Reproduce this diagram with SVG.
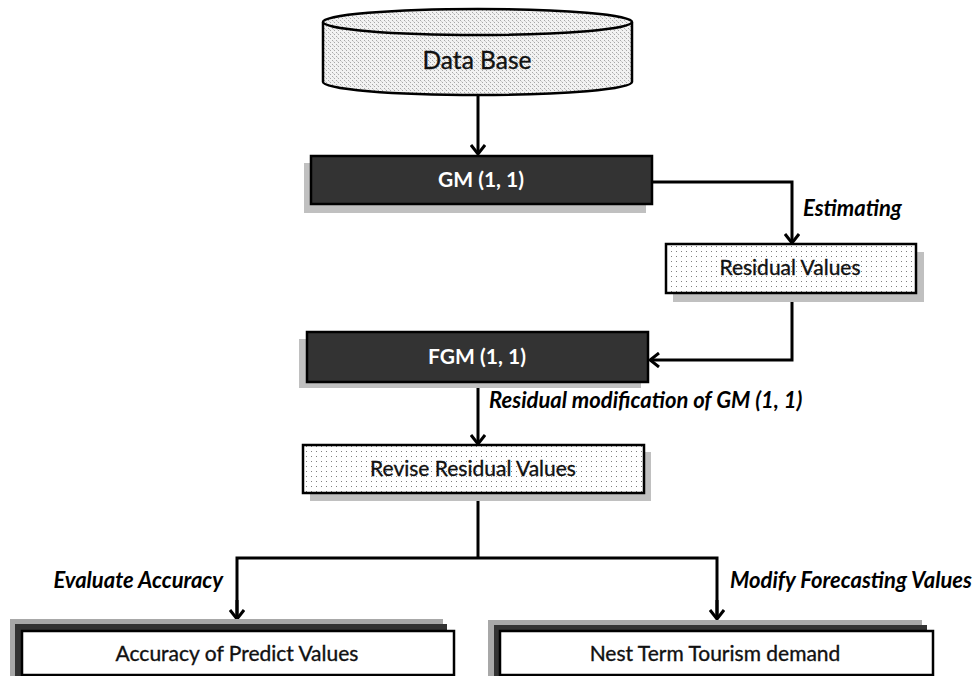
<svg xmlns="http://www.w3.org/2000/svg" width="978" height="676" viewBox="0 0 978 676">
<defs>
<pattern id="dots" width="5" height="5" patternUnits="userSpaceOnUse">
<rect width="5" height="5" fill="#ffffff"/>
<rect x="1" y="1" width="1" height="1" fill="#808080"/>
</pattern>
<pattern id="dense" width="4" height="4" patternUnits="userSpaceOnUse">
<rect width="4" height="4" fill="#f2f2f2"/>
<rect x="0" y="0" width="1" height="1" fill="#a8a8a8"/>
<rect x="2" y="2" width="1" height="1" fill="#a8a8a8"/>
<rect x="1" y="1" width="1" height="1" fill="#d0d0d0"/>
</pattern>
<marker id="arr" viewBox="-10 -8 12 16" refX="0" refY="0" markerWidth="12" markerHeight="16" markerUnits="userSpaceOnUse" orient="auto">
<path d="M-9,-7 L0,0 L-9,7" fill="none" stroke="#000" stroke-width="3"/>
</marker>
</defs>
<style>
.ln{fill:none;stroke:#000;stroke-width:3}
.dark{fill:#333333;stroke:#000;stroke-width:2.5}
.shadow{fill:#c0c0c0}
.light{fill:url(#dots);stroke:#000;stroke-width:2.5}
.white{fill:#ffffff;stroke:#000;stroke-width:2.5}
.t{font-family:Lato,"Open Sans","Liberation Sans",sans-serif;font-size:21px;fill:#111;stroke:#111;stroke-width:0.35;text-anchor:middle}
.tw{font-family:Lato,"Open Sans","Liberation Sans",sans-serif;font-size:21px;font-weight:bold;fill:#ffffff;text-anchor:middle}
.lab{font-family:Lato,"Open Sans","Liberation Sans",sans-serif;font-size:22px;font-weight:bold;font-style:italic;fill:#000}
</style>
<rect width="978" height="676" fill="#ffffff"/>
<g id="connectors">
<path class="ln" d="M478,95 V154" marker-end="url(#arr)"/>
<path class="ln" d="M652,182 H792 V243" marker-end="url(#arr)"/>
<path class="ln" d="M792,293 V360 H650" marker-end="url(#arr)"/>
<path class="ln" d="M478,382 V444" marker-end="url(#arr)"/>
<path class="ln" d="M478,493 V558"/>
<path class="ln" d="M237,619 V558 H717 V619" />
<path class="ln" d="M237,600 V619" marker-end="url(#arr)"/>
<path class="ln" d="M717,600 V619" marker-end="url(#arr)"/>
<text class="lab" x="803" y="216">Estimating</text>
<text class="lab" x="489" y="408">Residual modification of GM (1, 1)</text>
<text class="lab" x="223" y="588" text-anchor="end">Evaluate Accuracy</text>
<text class="lab" x="730" y="588">Modify Forecasting Values</text>
</g>
<g id="database">
<path d="M323,22 V82 A154.5,13 0 0 0 632,82 V22" fill="url(#dense)" stroke="#000" stroke-width="2.5"/>
<ellipse cx="477.5" cy="22" rx="154.5" ry="13" fill="url(#dense)" stroke="#000" stroke-width="2.5"/>
<text class="t" x="477" y="69" style="font-size:24.5px">Data Base</text>
</g>
<g id="gm">
<rect class="shadow" x="304" y="163" width="342" height="50"/>
<rect class="dark" x="311" y="156" width="341" height="48"/>
<text class="tw" x="481" y="187">GM (1, 1)</text>
</g>
<g id="residual">
<rect class="shadow" x="673" y="252" width="251" height="50"/>
<rect class="light" x="666" y="244" width="250" height="49"/>
<text class="t" x="790" y="275">Residual Values</text>
</g>
<g id="fgm">
<rect class="shadow" x="299" y="339" width="342" height="49"/>
<rect class="dark" x="307" y="332" width="341" height="50"/>
<text class="tw" x="477" y="364">FGM (1, 1)</text>
</g>
<g id="revise">
<rect class="shadow" x="310" y="452" width="341" height="49"/>
<rect class="light" x="303" y="445" width="341" height="48"/>
<text class="t" x="473" y="476">Revise Residual Values</text>
</g>
<g id="accuracy">
<rect x="10" y="619" width="433" height="60" fill="#a8a8a8"/>
<rect x="15" y="624" width="432" height="60" fill="#333333"/>
<rect class="white" x="22" y="631" width="432" height="44"/>
<text class="t" x="237" y="661">Accuracy of Predict Values</text>
</g>
<g id="nest">
<rect x="488" y="620" width="434" height="60" fill="#a8a8a8"/>
<rect x="494" y="625" width="433" height="60" fill="#333333"/>
<rect class="white" x="500" y="631" width="433" height="44"/>
<text class="t" x="715" y="661">Nest Term Tourism demand</text>
</g>
</svg>
